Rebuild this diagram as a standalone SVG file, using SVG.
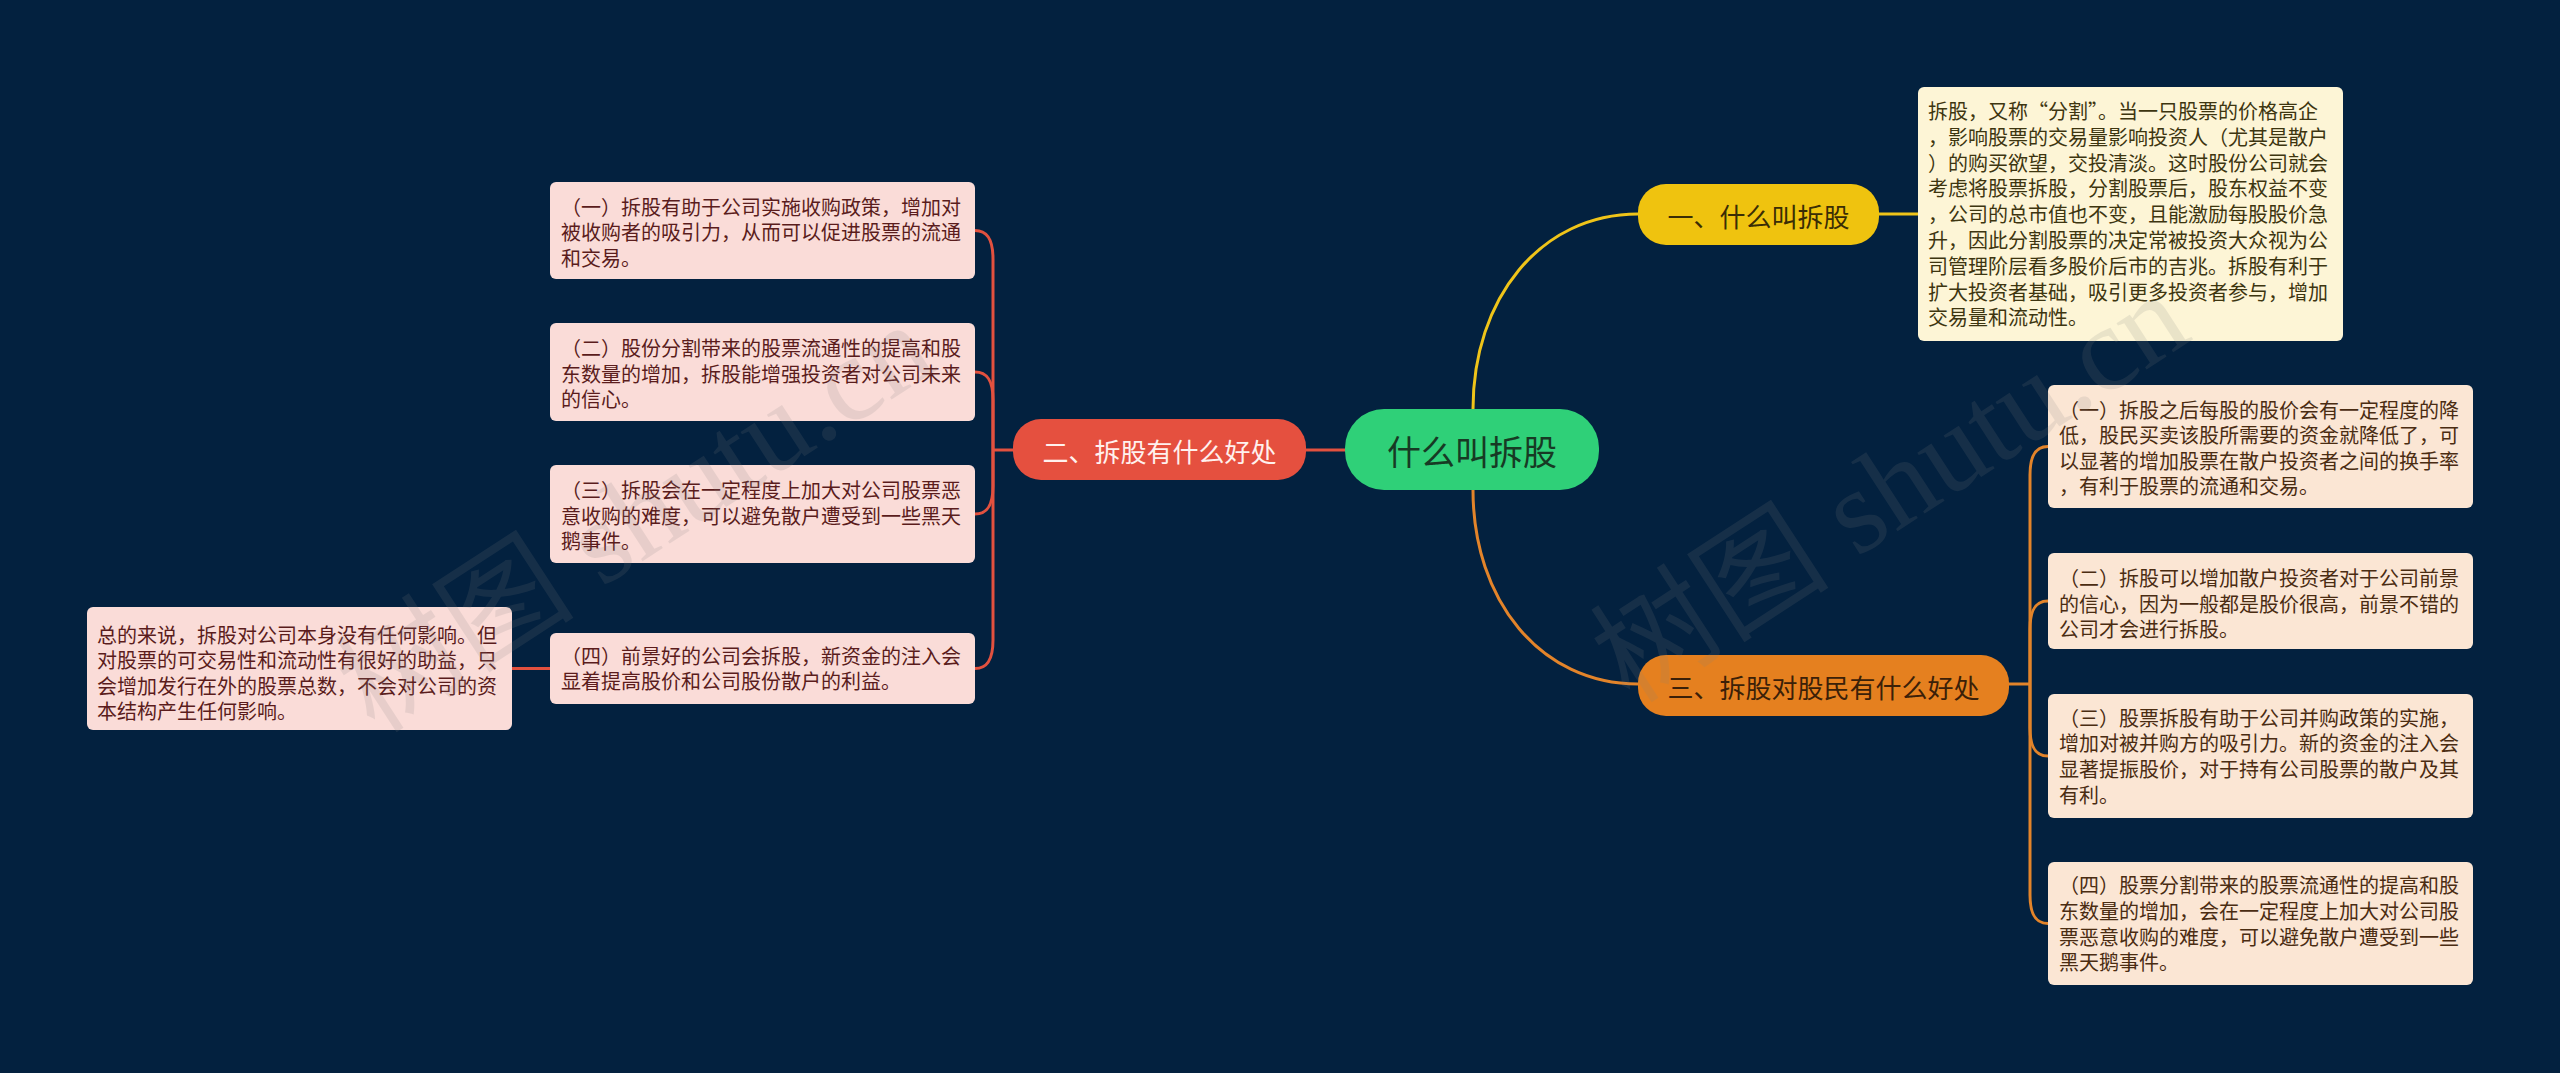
<svg xmlns="http://www.w3.org/2000/svg" width="2560" height="1073" viewBox="0 0 2560 1073">
<style>
.bg{fill:#03213f}
.t{font-family:"Noto Sans CJK SC","Noto Sans",sans-serif;font-size:20px}
.nt{font-family:"Noto Sans CJK SC","Noto Sans",sans-serif;text-anchor:middle;dominant-baseline:central}
.red{fill:none;stroke:#e2513f;stroke-width:3}
.yel{fill:none;stroke:#efc419;stroke-width:3}
.org{fill:none;stroke:#e3842a;stroke-width:3}
.pink{fill:#fadcd8}
.peach{fill:#fbe6d4}
.cream{fill:#fdf5d6}
.tp{fill:#5a1c1c}
.to{fill:#4a2c12}
.ty{fill:#3d3510}
.wm{font-family:"Liberation Serif","Noto Sans CJK SC",serif;font-size:120px;fill:#808080;opacity:0.15}
</style>
<rect class="bg" x="0" y="0" width="2560" height="1073"/>

<g id="connectors">
  <path class="yel" d="M1473,409 C1473,299 1540,214 1638,214"/>
  <path class="org" d="M1473,490 C1473,600 1540,684 1638,684"/>
  <path class="red" d="M1306,450 L1346,450"/>
  <path class="yel" d="M1879,214 L1918,214"/>
  <path class="org" d="M2008,684 L2030,684"/>
  <path class="org" d="M2030,684 L2030,475 C2030,455 2036,446.5 2048,446.5"/>
  <path class="org" d="M2030,684 L2030,629 C2030,609 2036,601 2048,601"/>
  <path class="org" d="M2030,684 L2030,728 C2030,748 2036,756 2048,756"/>
  <path class="org" d="M2030,684 L2030,895 C2030,915 2036,923.5 2048,923.5"/>
  <path class="red" d="M1013,450 L993,450"/>
  <path class="red" d="M993,450 L993,259 C993,239 987,230.5 975,230.5"/>
  <path class="red" d="M993,450 L993,400 C993,380 987,372 975,372"/>
  <path class="red" d="M993,450 L993,486 C993,506 987,514 975,514"/>
  <path class="red" d="M993,450 L993,640 C993,660 987,668.5 975,668.5"/>
  <path class="red" d="M550,668.5 L512,668.5"/>
</g>

<g id="root">
  <rect x="1345" y="409" width="254" height="81" rx="39" fill="#2fd078"/>
  <text class="nt" x="1472" y="450" font-size="34" fill="#173a24">什么叫拆股</text>
</g>

<g id="n1">
  <rect x="1638" y="184" width="241" height="61" rx="28" fill="#efc30f"/>
  <text class="nt" x="1758.5" y="215" font-size="26" fill="#3a2d05">一、什么叫拆股</text>
</g>

<g id="n2">
  <rect x="1013" y="419" width="293" height="61" rx="28" fill="#e5503f"/>
  <text class="nt" x="1159.5" y="450" font-size="26" fill="#fff1ee">二、拆股有什么好处</text>
</g>

<g id="n3">
  <rect x="1638" y="655" width="371" height="61" rx="28" fill="#e5801f"/>
  <text class="nt" x="1823.5" y="686" font-size="26" fill="#3b2008">三、拆股对股民有什么好处</text>
</g>

<g id="n1-1">
  <rect class="cream" x="1918" y="87" width="425" height="254" rx="6"/>
  <text class="t ty" x="1928">
    <tspan x="1928" y="119">拆股，又称“分割”。当一只股票的价格高企</tspan>
    <tspan x="1928" y="144.8">，影响股票的交易量影响投资人（尤其是散户</tspan>
    <tspan x="1928" y="170.6">）的购买欲望，交投清淡。这时股份公司就会</tspan>
    <tspan x="1928" y="196.4">考虑将股票拆股，分割股票后，股东权益不变</tspan>
    <tspan x="1928" y="222.2">，公司的总市值也不变，且能激励每股股价急</tspan>
    <tspan x="1928" y="248">升，因此分割股票的决定常被投资大众视为公</tspan>
    <tspan x="1928" y="273.8">司管理阶层看多股价后市的吉兆。拆股有利于</tspan>
    <tspan x="1928" y="299.6">扩大投资者基础，吸引更多投资者参与，增加</tspan>
    <tspan x="1928" y="325.4">交易量和流动性。</tspan>
  </text>
</g>

<g id="n3-1">
  <rect class="peach" x="2048" y="385" width="425" height="123" rx="6"/>
  <text class="t to">
    <tspan x="2059" y="417.5">（一）拆股之后每股的股价会有一定程度的降</tspan>
    <tspan x="2059" y="443">低，股民买卖该股所需要的资金就降低了，可</tspan>
    <tspan x="2059" y="468.5">以显著的增加股票在散户投资者之间的换手率</tspan>
    <tspan x="2059" y="494">，有利于股票的流通和交易。</tspan>
  </text>
</g>

<g id="n3-2">
  <rect class="peach" x="2048" y="553" width="425" height="96" rx="6"/>
  <text class="t to">
    <tspan x="2059" y="586">（二）拆股可以增加散户投资者对于公司前景</tspan>
    <tspan x="2059" y="611.5">的信心，因为一般都是股价很高，前景不错的</tspan>
    <tspan x="2059" y="637">公司才会进行拆股。</tspan>
  </text>
</g>

<g id="n3-3">
  <rect class="peach" x="2048" y="694" width="425" height="124" rx="6"/>
  <text class="t to">
    <tspan x="2059" y="725.5">（三）股票拆股有助于公司并购政策的实施，</tspan>
    <tspan x="2059" y="751.3">增加对被并购方的吸引力。新的资金的注入会</tspan>
    <tspan x="2059" y="777.1">显著提振股价，对于持有公司股票的散户及其</tspan>
    <tspan x="2059" y="802.9">有利。</tspan>
  </text>
</g>

<g id="n3-4">
  <rect class="peach" x="2048" y="862" width="425" height="123" rx="6"/>
  <text class="t to">
    <tspan x="2059" y="893">（四）股票分割带来的股票流通性的提高和股</tspan>
    <tspan x="2059" y="918.8">东数量的增加，会在一定程度上加大对公司股</tspan>
    <tspan x="2059" y="944.6">票恶意收购的难度，可以避免散户遭受到一些</tspan>
    <tspan x="2059" y="970.4">黑天鹅事件。</tspan>
  </text>
</g>

<g id="n2-1">
  <rect class="pink" x="550" y="182" width="425" height="97" rx="6"/>
  <text class="t tp">
    <tspan x="561" y="214.5">（一）拆股有助于公司实施收购政策，增加对</tspan>
    <tspan x="561" y="240">被收购者的吸引力，从而可以促进股票的流通</tspan>
    <tspan x="561" y="265.5">和交易。</tspan>
  </text>
</g>

<g id="n2-2">
  <rect class="pink" x="550" y="323" width="425" height="98" rx="6"/>
  <text class="t tp">
    <tspan x="561" y="356">（二）股份分割带来的股票流通性的提高和股</tspan>
    <tspan x="561" y="381.5">东数量的增加，拆股能增强投资者对公司未来</tspan>
    <tspan x="561" y="407">的信心。</tspan>
  </text>
</g>

<g id="n2-3">
  <rect class="pink" x="550" y="465" width="425" height="98" rx="6"/>
  <text class="t tp">
    <tspan x="561" y="498">（三）拆股会在一定程度上加大对公司股票恶</tspan>
    <tspan x="561" y="523.5">意收购的难度，可以避免散户遭受到一些黑天</tspan>
    <tspan x="561" y="549">鹅事件。</tspan>
  </text>
</g>

<g id="n2-4">
  <rect class="pink" x="550" y="633" width="425" height="71" rx="6"/>
  <text class="t tp">
    <tspan x="561" y="663.5">（四）前景好的公司会拆股，新资金的注入会</tspan>
    <tspan x="561" y="689">显着提高股价和公司股份散户的利益。</tspan>
  </text>
</g>

<g id="n2-4-1">
  <rect class="pink" x="87" y="607" width="425" height="123" rx="6"/>
  <text class="t tp">
    <tspan x="97" y="642.5">总的来说，拆股对公司本身没有任何影响。但</tspan>
    <tspan x="97" y="668">对股票的可交易性和流动性有很好的助益，只</tspan>
    <tspan x="97" y="693.5">会增加发行在外的股票总数，不会对公司的资</tspan>
    <tspan x="97" y="719">本结构产生任何影响。</tspan>
  </text>
</g>

<g id="watermark">
  <text class="wm" x="375" y="735" transform="rotate(-33 375 735)">树图 shutu.cn</text>
  <text class="wm" x="1630" y="705" transform="rotate(-33 1630 705)">树图 shutu.cn</text>
</g>
</svg>
